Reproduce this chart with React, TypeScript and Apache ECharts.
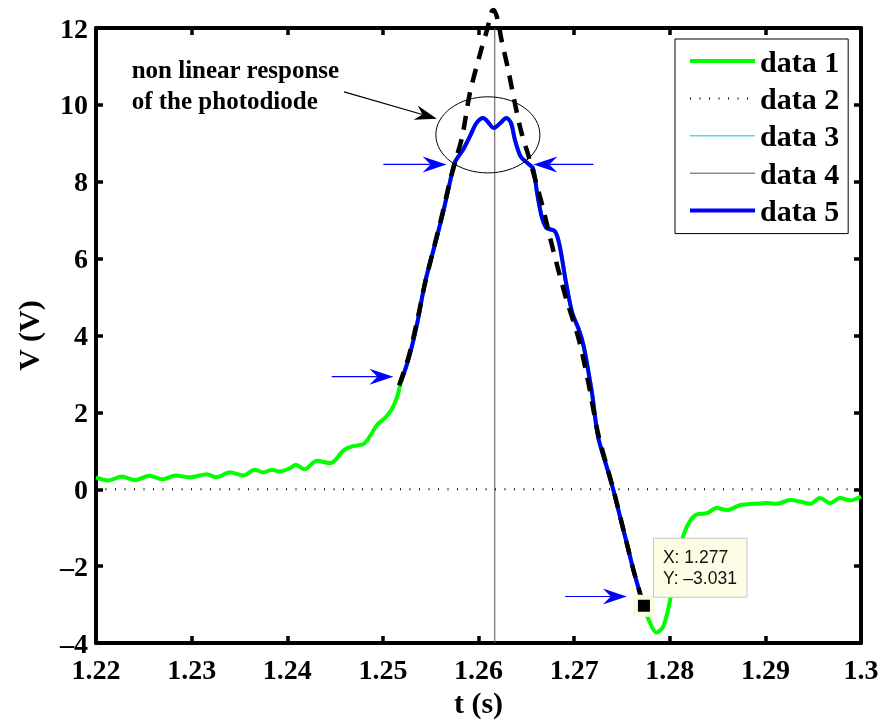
import React, { useEffect, useRef } from "react";
import * as echarts from "echarts";

// ---- data ----
const xMin = 1.22;
const xMax = 1.3;
const xStep = 0.01;
const yMin = -4;
const yMax = 12;
const yStep = 2;

const legendNames = ["data 1", "data 2", "data 3", "data 4", "data 5"];

// green signal before the saturated part
const signalBefore: number[][] = [
  [1.22, 0.31], [1.2213, 0.23], [1.2227, 0.33], [1.2241, 0.24], [1.2256, 0.35],
  [1.227, 0.26], [1.2283, 0.36], [1.2298, 0.31], [1.2316, 0.39], [1.2326, 0.31],
  [1.234, 0.44], [1.2354, 0.36], [1.2366, 0.51], [1.2375, 0.44], [1.2384, 0.51],
  [1.2392, 0.46], [1.2403, 0.55], [1.2409, 0.64], [1.2418, 0.52], [1.2431, 0.74],
  [1.2445, 0.68], [1.2459, 1.01], [1.2467, 1.11], [1.248, 1.18], [1.2487, 1.4],
  [1.2494, 1.68], [1.2502, 1.85], [1.2509, 2.07], [1.2515, 2.41], [1.2519, 2.8],
];

// blue measured segment (data 5)
const measured: number[][] = [
  [1.2519, 2.8], [1.2527, 3.4], [1.2536, 4.33], [1.2544, 5.37], [1.2553, 6.23],
  [1.2562, 7.1], [1.257, 7.97], [1.2575, 8.49], [1.2584, 8.84], [1.2591, 9.18],
  [1.2598, 9.53], [1.2605, 9.66], [1.2609, 9.58], [1.2616, 9.4], [1.2623, 9.53],
  [1.2629, 9.66], [1.2634, 9.53], [1.2638, 9.1], [1.2644, 8.66], [1.2651, 8.49],
  [1.2657, 8.35], [1.2661, 7.75], [1.2666, 7.1], [1.2671, 6.8], [1.268, 6.71],
  [1.2685, 6.32], [1.2691, 5.45], [1.2698, 4.59], [1.2705, 4.15], [1.271, 3.72],
  [1.2715, 3.05], [1.2719, 2.45], [1.2725, 1.37], [1.2734, 0.59], [1.2741, -0.02],
  [1.2748, -0.71], [1.2755, -1.4], [1.2762, -2.1], [1.2769, -2.71], [1.2773, -3.031],
];

// green signal after the saturated part
const signalAfter: number[][] = [
  [1.2773, -3.031], [1.2778, -3.4], [1.2786, -3.73], [1.2793, -3.58], [1.2799, -3.05],
  [1.2804, -2.36], [1.2811, -1.49], [1.2818, -0.97], [1.2827, -0.67], [1.2839, -0.62],
  [1.2849, -0.49], [1.286, -0.54], [1.2874, -0.41], [1.2888, -0.38], [1.2902, -0.36],
  [1.2912, -0.38], [1.2926, -0.28], [1.2936, -0.32], [1.2947, -0.38], [1.2957, -0.23],
  [1.2968, -0.36], [1.2978, -0.23], [1.2989, -0.29], [1.3, -0.19],
];

// dashed reconstructed (fit) curve
const fitCurve: number[][] = [
  [1.2517, 2.7], [1.2527, 3.45], [1.2536, 4.4], [1.2544, 5.35], [1.2553, 6.25],
  [1.2562, 7.15], [1.257, 8.0], [1.2576, 8.55], [1.2583, 9.18], [1.2591, 10.31],
  [1.2602, 11.36], [1.2609, 11.96], [1.2614, 12.44], [1.2616, 12.47], [1.262, 12.22],
  [1.2624, 11.7], [1.2631, 10.92], [1.2638, 10.05], [1.2645, 9.27], [1.2652, 8.7],
  [1.2666, 7.45], [1.2678, 6.23], [1.2691, 5.02], [1.2705, 3.89], [1.2715, 2.76],
  [1.2725, 1.45], [1.2734, 0.62], [1.2741, 0.0], [1.2748, -0.7], [1.2755, -1.4],
  [1.2762, -2.1], [1.2769, -2.72], [1.2772, -2.98],
];

const zeroLine: number[][] = [[1.22, 0], [1.3, 0]];
const cursorLine: number[][] = [[1.2617, -4], [1.2617, 12]];

const dataTip: number[] = [1.2773, -3.031];
const dataTipLabel = ["X: 1.277", "Y: \u20133.031"];

const noteLines = ["non linear response", "of the photodiode"];
const noteAnchor: number[] = [1.22373, 10.69];
const noteArrow: number[][] = [[1.24594, 10.34], [1.25564, 9.64]];
const ellipseCenter: number[] = [1.26098, 9.22];
const ellipseEdge: number[] = [1.26642, 8.23];
const blueArrows: number[][][] = [
  [[1.25005, 8.45], [1.25666, 8.45]],
  [[1.27202, 8.45], [1.26574, 8.45]],
  [[1.24465, 2.93], [1.2511, 2.93]],
  [[1.26906, -2.79], [1.27551, -2.79]],
];

const serif = "'Liberation Serif', 'Times New Roman', serif";
const sans = "'Liberation Sans', Arial, sans-serif";

function arrowHead(tail: number[], tip: number[], L: number, w: number, notch: number) {
  const dx = tip[0] - tail[0];
  const dy = tip[1] - tail[1];
  const len = Math.hypot(dx, dy) || 1;
  const ux = dx / len, uy = dy / len;
  const nx = -uy, ny = ux;
  return [
    [tip[0], tip[1]],
    [tip[0] - L * ux + w * nx, tip[1] - L * uy + w * ny],
    [tip[0] - notch * ux, tip[1] - notch * uy],
    [tip[0] - L * ux - w * nx, tip[1] - L * uy - w * ny],
  ];
}

export default function App() {
  const ref = useRef<HTMLDivElement>(null);
  useEffect(() => {
    if (!ref.current) return;
    const chart = echarts.init(ref.current, null, { renderer: "svg" });
    const fmt = (v: number) => String(Math.round(v * 100) / 100).replace("-", "\u2013");
    const lineAxis = { lineStyle: { color: "#000", width: 4 }, onZero: false };
    const tick = { inside: true, length: 7, lineStyle: { color: "#000", width: 3.5 } };
    const labelStyle = { color: "#000", fontFamily: serif, fontWeight: "bold" as const, fontSize: 28 };

    chart.setOption({
      animation: false,
      grid: { left: 96, right: 25, top: 28, bottom: 80, containLabel: false, outerBoundsMode: "none" },
      xAxis: [
        {
          type: "value", min: xMin, max: xMax, interval: xStep, position: "bottom",
          axisLine: lineAxis, axisTick: tick, splitLine: { show: false },
          axisLabel: { ...labelStyle, margin: 12, formatter: fmt },
          name: "t (s)", nameLocation: "middle", nameGap: 42,
          nameTextStyle: { color: "#000", fontFamily: serif, fontWeight: "bold", fontSize: 30 },
        },
        {
          type: "value", min: xMin, max: xMax, interval: xStep, position: "top",
          axisLine: lineAxis, axisTick: tick, splitLine: { show: false }, axisLabel: { show: false },
        },
      ],
      yAxis: [
        {
          type: "value", min: yMin, max: yMax, interval: yStep, position: "left",
          axisLine: lineAxis, axisTick: tick, splitLine: { show: false },
          axisLabel: { ...labelStyle, margin: 8, formatter: fmt },
          name: "V (V)", nameLocation: "middle", nameGap: 53,
          nameTextStyle: { color: "#000", fontFamily: serif, fontWeight: "bold", fontSize: 30 },
        },
        {
          type: "value", min: yMin, max: yMax, interval: yStep, position: "right",
          axisLine: lineAxis, axisTick: tick, splitLine: { show: false }, axisLabel: { show: false },
        },
      ],
      legend: {
        data: legendNames, orient: "vertical", left: 675, top: 39,
        padding: [7, 9, 8, 13], itemWidth: 65, itemHeight: 14, itemGap: 7.4,
        borderColor: "#000", borderWidth: 1, backgroundColor: "#fff",
        itemStyle: { opacity: 0 },
        lineStyle: { width: "inherit" },
        textStyle: { color: "#000", fontFamily: serif, fontWeight: "bold", fontSize: 30, lineHeight: 30 },
      },
      series: [
        {
          name: "data 1", type: "line", data: [...signalBefore, ...measured, ...signalAfter],
          showSymbol: false, symbol: "none", smooth: 0.3,
          lineStyle: { color: "#00ff00", width: 4 }, itemStyle: { color: "#00ff00" }, z: 2,
        },
        {
          name: "data 2", type: "line", data: zeroLine, showSymbol: false, symbol: "none",
          lineStyle: { color: "#000", width: 2, type: [1, 8.5] }, itemStyle: { color: "#000" }, z: 3,
        },
        {
          name: "data 3", type: "line", data: measured, showSymbol: false, symbol: "none", smooth: 0.3,
          lineStyle: { color: "#55dcdc", width: 1.5 }, itemStyle: { color: "#55dcdc" }, z: 4,
        },
        {
          name: "data 4", type: "line", data: cursorLine, showSymbol: false, symbol: "none",
          lineStyle: { color: "#555", width: 1 }, itemStyle: { color: "#000" }, z: 5,
        },
        {
          name: "data 5", type: "line", data: measured, showSymbol: false, symbol: "none", smooth: 0.3,
          lineStyle: { color: "#0000ff", width: 4 }, itemStyle: { color: "#0000ff" }, z: 6,
        },
        {
          name: "fit", type: "line", data: fitCurve, showSymbol: false, symbol: "none", smooth: 0.3,
          clip: false, lineStyle: { color: "#000", width: 4.5, type: [14, 10] }, z: 7,
        },
        {
          name: "tip", type: "scatter", data: [dataTip], symbol: "rect", symbolSize: 17,
          itemStyle: { color: "#000", borderColor: "#fbfbe0", borderWidth: 5, opacity: 1 }, z: 8,
        },
      ],
    });

    const px = (p: number[]) => chart.convertToPixel({ xAxisIndex: 0, yAxisIndex: 0 }, p) as number[];
    const elements: any[] = [];

    blueArrows.forEach(([a, b]) => {
      const t = px(a), h = px(b);
      const head = arrowHead(t, h, 24, 8, 16);
      elements.push({
        type: "line", shape: { x1: t[0], y1: t[1], x2: head[2][0], y2: head[2][1] },
        style: { stroke: "#0000ff", lineWidth: 1.2 }, z: 100,
      });
      elements.push({ type: "polygon", shape: { points: head }, style: { fill: "#0000ff" }, z: 100 });
    });

    {
      const t = px(noteArrow[0]), h = px(noteArrow[1]);
      const head = arrowHead(t, h, 22, 7.5, 15);
      elements.push({
        type: "line", shape: { x1: t[0], y1: t[1], x2: head[2][0], y2: head[2][1] },
        style: { stroke: "#000", lineWidth: 1.2 }, z: 100,
      });
      elements.push({ type: "polygon", shape: { points: head }, style: { fill: "#000" }, z: 100 });
    }

    {
      const c = px(ellipseCenter), e = px(ellipseEdge);
      elements.push({
        type: "ellipse",
        shape: { cx: c[0], cy: c[1], rx: Math.abs(e[0] - c[0]), ry: Math.abs(e[1] - c[1]) },
        style: { fill: "none", stroke: "#000", lineWidth: 1 }, z: 100,
      });
    }

    {
      const a = px(noteAnchor);
      noteLines.forEach((txt, i) => {
        elements.push({
          type: "text", x: a[0], y: a[1] - 8.5 + i * 31,
          style: {
            text: txt, fill: "#000", font: `bold 25px ${serif}`,
            textAlign: "left", textVerticalAlign: "middle",
          },
          z: 100,
        });
      });
    }

    {
      const m = px(dataTip);
      elements.push({
        type: "rect", shape: { x: m[0] + 9.5, y: m[1] - 67.5, width: 93.5, height: 59 },
        style: { fill: "#fdfde6", stroke: "#c4c4c4", lineWidth: 1 }, z: 100,
      });
      dataTipLabel.forEach((txt, i) => {
        elements.push({
          type: "text", x: m[0] + 19, y: m[1] - 49 + i * 21,
          style: {
            text: txt, fill: "#111", font: `17.5px ${sans}`,
            textAlign: "left", textVerticalAlign: "middle",
          },
          z: 101,
        });
      });
    }

    chart.setOption({ graphic: elements });
    return () => chart.dispose();
  }, []);
  return <div ref={ref} style={{ position: "fixed", left: 0, top: 0, width: 886, height: 723 }} />;
}
